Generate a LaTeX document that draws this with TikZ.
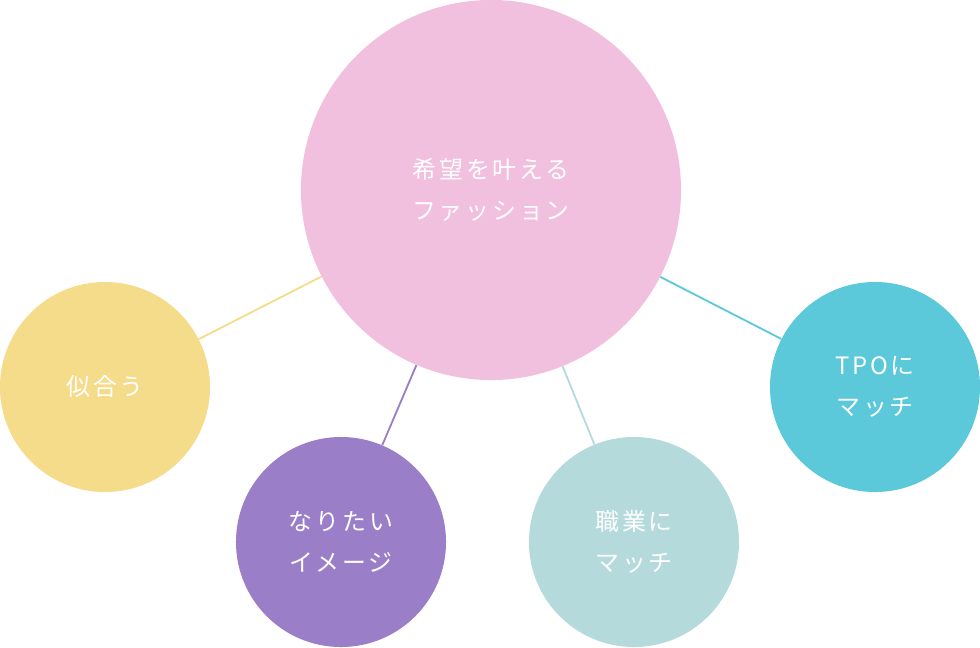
\documentclass[tikz,border=0pt]{standalone}
\usepackage{fontspec}
\newfontfamily\jp[LetterSpace=12]{Noto Sans CJK JP}
\usetikzlibrary{positioning}
\definecolor{pinkc}{HTML}{F1C0DF}
\definecolor{yelc}{HTML}{F5DC8A}
\definecolor{purc}{HTML}{9B7EC8}
\definecolor{tealc}{HTML}{B5DADB}
\definecolor{cyanc}{HTML}{5BC9D9}
\tikzset{
  bubble/.style={circle, inner sep=0pt, minimum size=5.25cm, text=white,
    align=center, font=\jp\fontsize{17}{29}\selectfont},
  link/.style={line width=1.3pt}
}
\begin{document}
\begin{tikzpicture}[x=0.025cm,y=-0.025cm]
\useasboundingbox (0,0) rectangle (980,647);
\node (hope) [bubble, fill=pinkc, minimum size=9.5cm] at (491,190) {希望を叶える\\ファッション};
\node (suit) [bubble, fill=yelc] at (105,387) {似合う};
\node (ideal) [bubble, fill=purc] at (341,542) {なりたい\\イメージ};
\node (job) [bubble, fill=tealc] at (634,542) {職業に\\マッチ};
\node (tpo) [bubble, fill=cyanc] at (875,387) {TPOに\\マッチ};

\begin{scope}[on background layer/.style={}]
\draw [link, yelc] (hope) -- (suit);
\draw [link, purc] (hope) -- (ideal);
\draw [link, tealc] (hope) -- (job);
\draw [link, cyanc] (hope) -- (tpo);
\end{scope}
\end{tikzpicture}
\end{document}
